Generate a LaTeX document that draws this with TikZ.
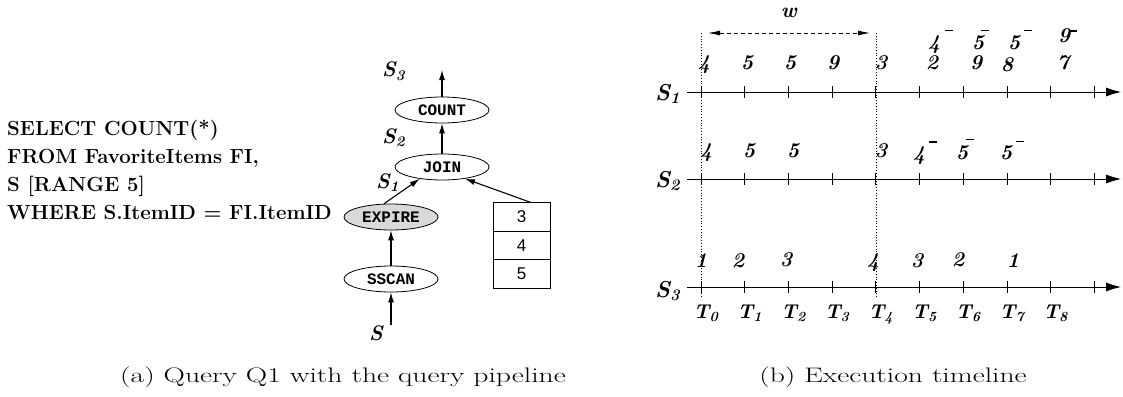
\documentclass[tikz,border=0pt]{standalone}
\usepackage{fontspec}
\usepackage{graphicx}
\usetikzlibrary{shapes.geometric,arrows.meta,calc}
\newfontfamily\opfont{Liberation Mono}
\newfontfamily\tabfont{Liberation Sans}
\newcommand\negd[3]{#1\rlap{\hspace{#2}\rule[#3]{8pt}{1.5pt}}}
\newcommand\capwide[1]{\scalebox{1.41}[1]{#1}}
\begin{document}
\begin{tikzpicture}[x=1pt,y=-1pt,
 op/.style={ellipse,draw,line width=0.8pt,minimum width=94pt,minimum height=26pt,inner sep=0pt,font=\opfont\bfseries\fontsize{16}{16}\selectfont},
 pipe/.style={line width=1.1pt,-{Latex[length=10pt,width=6pt]}},
 slab/.style={font=\fontsize{21}{21}\selectfont\bfseries\itshape,inner sep=0pt,anchor=base west},
 sql/.style={font=\fontsize{20.4}{20.4}\selectfont\bfseries,anchor=base west,inner sep=0pt},
 cell/.style={draw,line width=0.8pt,minimum width=57pt,minimum height=28.5pt,inner sep=0pt,font=\tabfont\fontsize{17}{17}\selectfont},
 axarr/.style={line width=0.8pt,-{Latex[length=15pt,width=9pt]}},
 tk/.style={line width=0.8pt},
 num/.style={font=\fontsize{21}{21}\selectfont\bfseries\itshape,inner sep=0pt,anchor=base},
 tlab/.style={font=\fontsize{20}{20}\selectfont\bfseries\itshape,inner sep=0pt,anchor=base west},
 slabt/.style={font=\fontsize{23}{23}\selectfont\bfseries\itshape,inner sep=0pt,anchor=base west},
 vdot/.style={dotted,line width=0.8pt},
 captxt/.style={font=\fontsize{21}{21}\selectfont,inner sep=0pt,anchor=base},
]
\useasboundingbox (0,0) rectangle (1123,396);

% ---------- (a) SQL text ----------
\node[sql] (q1) at (7,135) {SELECT COUNT(*)};
\node[sql] (q2) at (7,163) {FROM FavoriteItems FI,};
\node[sql] (q3) at (7,191) {S [RANGE 5]};
\node[sql] (q4) at (7,219) {WHERE S.ItemID = FI.ItemID};

% ---------- (a) pipeline ----------
\node[op] (count) at (442,110) {COUNT};
\node[op] (join) at (442,167) {JOIN};
\node[op,fill=black!15] (expire) at (391,217) {EXPIRE};
\node[op] (sscan) at (391,279) {SSCAN};
\node[cell] (t3) at (521.5,217) {3};
\node[cell] (t4) at (521.5,245.5) {4};
\node[cell] (t5) at (521.5,274) {5};
\coordinate (s3top) at (442,70);
\coordinate (sbot) at (391,325);

\draw[pipe] (sbot) -- (sscan);
\draw[pipe] (sscan) -- (expire);
\draw[pipe] (expire.118) -- (join.208);
\draw[pipe] ($(t3.north)+(9,0)$) -- (join.333);
\draw[pipe] (join) -- (count);
\draw[pipe] (count) -- (s3top);

\node[slab] (ls3) at (382,77) {S\textsubscript{3}};
\node[slab] (ls2) at (382,143) {S\textsubscript{2}};
\node[slab] (ls1) at (376,188) {S\textsubscript{1}};
\node[slab] (ls) at (369,340) {S};

% ---------- (b) timeline ----------
\foreach \yy/\n in {92/1,179/2,287/3}{
  \coordinate (a\n s) at (687,\yy);
  \coordinate (a\n e) at (1121,\yy);
  \draw[axarr] (a\n s) -- (a\n e);
  \foreach \i in {0,...,9}
    \draw[tk] ({701+43.7*\i},{\yy-6}) -- ({701+43.7*\i},{\yy+6});
}
\node[slabt] (tl1) at (655,100) {S\textsubscript{1}};
\node[slabt] (tl2) at (655,187) {S\textsubscript{2}};
\node[slabt] (tl3) at (655,297) {S\textsubscript{3}};

% window
\coordinate (d0t) at (701,33);
\coordinate (d0b) at (701,298);
\coordinate (d4t) at (876.5,33);
\coordinate (d4b) at (876.5,298);
\draw[vdot] (d0t) -- (d0b);
\draw[vdot] (d4t) -- (d4b);
\coordinate (wl) at (708,33);
\coordinate (wr) at (870,33);
\draw[line width=0.8pt,dash pattern=on 4pt off 3pt,{Latex[length=12pt,width=5pt]}-{Latex[length=12pt,width=5pt]}] (wl) -- (wr);
\node[num] (wlab) at (789,18) {w};

% S1 values
\node[num] (n10) at (704,69) {4};
\node[num] (n11) at (747,69) {5};
\node[num] (n12) at (790,69) {5};
\node[num] (n13) at (833,69) {9};
\node[num] (n14) at (881,69) {3};
\node[num] (n15) at (932,69) {2};
\node[num] (n16) at (976,69) {9};
\node[num] (n17) at (1007,71) {8};
\node[num] (n18) at (1063,69) {7};
\node[num] (m15) at (934,49) {\negd{4}{4.8pt}{18pt}};
\node[num] (m16) at (978,49) {\negd{5}{-3.2pt}{18pt}};
\node[num] (m17) at (1014,49) {\negd{5}{3.8pt}{18pt}};
\node[num] (m18) at (1064,43) {\negd{9}{-1.2pt}{11.5pt}};

% S2 values
\node[num] (n20) at (706,157) {4};
\node[num] (n21) at (749,157) {5};
\node[num] (n22) at (793,157) {5};
\node[num] (n24) at (881,157) {3};
\node[num] (n25) at (919,160) {\negd{4}{3.8pt}{17.5pt}};
\node[num] (n26) at (962,159) {\negd{5}{-2.2pt}{19pt}};
\node[num] (n27) at (1006,159) {\negd{5}{3.8pt}{17pt}};

% S3 values
\node[num] (n30) at (701,267) {1};
\node[num] (n31) at (738,267) {2};
\node[num] (n32) at (786,266) {3};
\node[num] (n34) at (873,267) {4};
\node[num] (n35) at (917,267) {3};
\node[num] (n36) at (958,266) {2};
\node[num] (n37) at (1013,267) {1};

% time labels
\foreach \i in {0,...,8}
  \node[tlab] (T\i) at ({701+43.7*\i-7.5},318) {T\textsubscript{\i}};

% captions
\node[captxt] (capa) at (343,382) {\capwide{(a) Query Q1 with the query pipeline}};
\node[captxt] (capb) at (893,382) {\capwide{(b) Execution timeline}};
\end{tikzpicture}
\end{document}
